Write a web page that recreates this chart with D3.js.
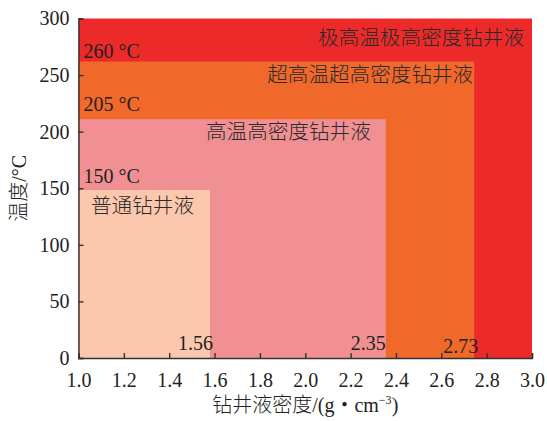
<!DOCTYPE html>
<html>
<head>
<meta charset="utf-8">
<script src="https://cdn.jsdelivr.net/npm/d3@7"></script>
<style>
body { margin: 0; background: #fff; }
</style>
</head>
<body>
<div id="svg"></div>
<script>
// fluid classes, drawn largest first
let categories = ['极高温极高密度钻井液', '超高温超高密度钻井液', '高温高密度钻井液', '普通钻井液']
let maxDensity = [3.0, 2.745, 2.355, 1.58]
let maxTemp = [300, 262, 211, 148.5]
let colors = ['#ec2a2a', '#f0692a', '#f09092', '#fbc8ae']

let tempLabels = ['260 °C', '205 °C', '150 °C']
let densityLabels = ['1.56', '2.35', '2.73']

let xTicks = [1.0, 1.2, 1.4, 1.6, 1.8, 2.0, 2.2, 2.4, 2.6, 2.8, 3.0]
let yTicks = [0, 50, 100, 150, 200, 250, 300]

let margin = {top: 18.5, right: 15, bottom: 63, left: 78.5}
let width = 547 - margin.left - margin.right, height = 421 - margin.top - margin.bottom

let serif = '"Liberation Serif", "Times New Roman", serif'
let cjk = '"Noto Sans CJK SC", sans-serif'

let svg = d3.select('#svg')
.append('svg')
.attr('width', 547)
.attr('height', 421)

let xScale = d3.scaleLinear()
.domain([1.0, 3.0])
.range([margin.left, margin.left + width])

let yScale = d3.scaleLinear()
.domain([0, 300])
.range([margin.top + height, margin.top])

svg.selectAll('.zone')
.data(categories)
.join('rect')
.attr('class', 'zone')
.attr('x', xScale(1.0))
.attr('y', (d, i) => yScale(maxTemp[i]))
.attr('width', (d, i) => xScale(maxDensity[i]) - xScale(1.0))
.attr('height', (d, i) => yScale(0) - yScale(maxTemp[i]))
.style('fill', (d, i) => colors[i])

// category name inside each zone, right end offset from zone edge
let nameDx = [-8, -1, -15, -16]
let nameDy = [26, 20, 20, 23.5]
svg.selectAll('.name')
.data(categories)
.join('text')
.attr('class', 'name')
.text(d => d)
.attr('x', (d, i) => xScale(maxDensity[i]) + nameDx[i])
.attr('y', (d, i) => yScale(maxTemp[i]) + nameDy[i])
.style('text-anchor', 'end')
.style('font-family', cjk)
.style('font-size', '20.6px')
.style('font-weight', 300)
.style('fill', '#2a2a2a')

// temperature limits, sitting just above the next zone
let tempDy = [-4, -8.5, -6.5]
svg.selectAll('.temp')
.data(tempLabels)
.join('text')
.attr('class', 'temp')
.text(d => d)
.attr('x', xScale(1.0) + 5)
.attr('y', (d, i) => yScale(maxTemp[i + 1]) + tempDy[i])
.style('font-family', serif)
.style('font-size', '20px')
.style('fill', '#222')

// density limits at the bottom right of each zone
let densDx = [3, 0, 4]
let densDy = [-8, -8, -5.5]
let densZone = [3, 2, 1]
svg.selectAll('.dens')
.data(densityLabels)
.join('text')
.attr('class', 'dens')
.text(d => d)
.attr('x', (d, i) => xScale(maxDensity[densZone[i]]) + densDx[i])
.attr('y', (d, i) => yScale(0) + densDy[i])
.style('text-anchor', 'end')
.style('font-family', serif)
.style('font-size', '20px')
.style('fill', '#222')

// axes with inward ticks
let xAxis = svg.append('g')
.attr('class', 'axis')
.attr('transform', `translate(0, ${yScale(0)})`)
.call(d3.axisBottom(xScale).tickValues(xTicks).tickSize(-5).tickPadding(10).tickFormat(d3.format('.1f')))

let yAxis = svg.append('g')
.attr('class', 'axis')
.attr('transform', `translate(${xScale(1.0)}, 0)`)
.call(d3.axisLeft(yScale).tickValues(yTicks).tickSize(-5).tickPadding(9))

svg.selectAll('.axis path, .axis line')
.style('stroke', '#333')
.style('stroke-width', 1.4)

svg.selectAll('.axis text')
.style('font-family', serif)
.style('font-size', '20px')
.style('fill', '#222')

xAxis.selectAll('text').attr('dy', '0.95em')

let xTitle = svg.append('text')
.attr('x', xScale(2.0))
.attr('y', 412)
.style('text-anchor', 'middle')
.style('fill', '#222')
.style('font-size', '20px')

xTitle.append('tspan').text('钻井液密度').style('font-family', cjk).style('font-weight', 300)
xTitle.append('tspan').text('/(g').style('font-family', serif)
xTitle.append('tspan').text('・').style('font-family', cjk)
xTitle.append('tspan').text('cm').style('font-family', serif)
xTitle.append('tspan').text('−3').style('font-family', serif).style('font-size', '12px').attr('dy', -8)
xTitle.append('tspan').text(')').style('font-family', serif).attr('dy', 8)

let yTitle = svg.append('text')
.attr('transform', `translate(26, ${yScale(150)})rotate(-90)`)
.style('text-anchor', 'middle')
.style('fill', '#222')
.style('font-size', '20px')

yTitle.append('tspan').text('温度').style('font-family', cjk).style('font-weight', 300)
yTitle.append('tspan').text('/°C').style('font-family', serif)
</script>
</body>
</html>
